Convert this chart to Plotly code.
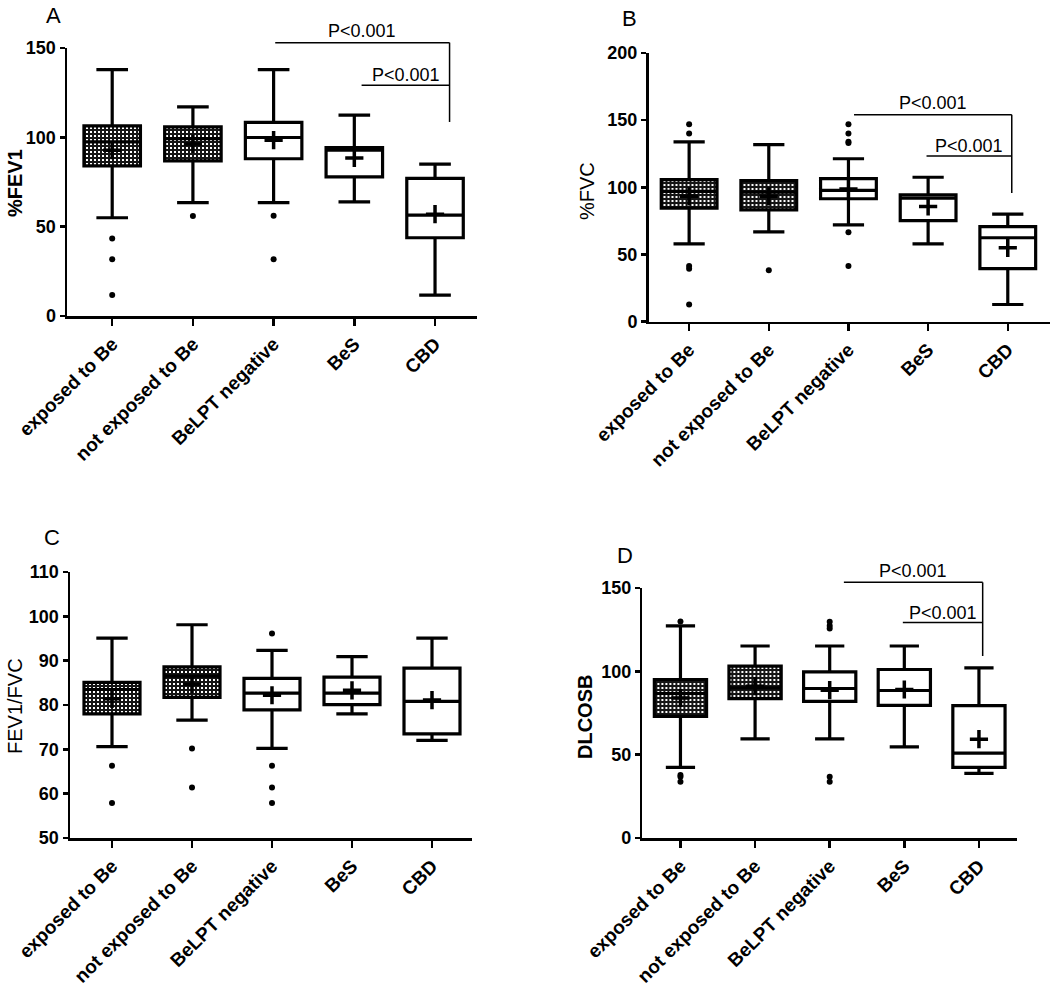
import plotly.graph_objects as go

# ---------------- data ----------------
categories = ["exposed to Be", "not exposed to Be", "BeLPT negative", "BeS", "CBD"]

# Panel A: %FEV1
fev1_q1 = [84.0, 86.8, 88.0, 77.9, 43.8]
fev1_median = [97.5, 99.3, 99.9, 92.8, 56.5]
fev1_q3 = [106.4, 105.8, 108.4, 94.3, 77.0]
fev1_low = [55.0, 63.5, 63.5, 63.9, 11.7]
fev1_high = [137.9, 117.0, 137.9, 112.4, 85.0]
fev1_mean = [92.8, 96.3, 98.4, 88.5, 57.0]
fev1_out_group = [0, 0, 0, 1, 2, 2]
fev1_out_value = [43.4, 31.7, 11.7, 56.0, 56.1, 31.7]

# Panel B: %FVC
fvc_q1 = [84.5, 83.3, 91.5, 75.3, 39.5]
fvc_median = [97.0, 96.5, 97.8, 92.0, 62.5]
fvc_q3 = [105.8, 105.0, 106.5, 94.5, 70.8]
fvc_low = [58.0, 66.8, 72.0, 58.0, 12.8]
fvc_high = [133.8, 131.8, 121.3, 107.5, 80.0]
fvc_mean = [93.3, 93.3, 98.8, 85.8, 55.0]
fvc_out_group = [0, 0, 0, 0, 0, 1, 2, 2, 2, 2, 2, 2]
fvc_out_value = [147.0, 140.0, 41.5, 39.5, 12.8, 38.3, 147.0, 140.0, 134.0, 133.0, 66.5, 41.5]

# Panel C: FEV1/FVC
ratio_q1 = [78.0, 81.7, 78.9, 80.1, 73.5]
ratio_median = [83.5, 86.5, 82.7, 82.7, 80.8]
ratio_q3 = [85.1, 88.6, 86.0, 86.3, 88.3]
ratio_low = [70.6, 76.6, 70.2, 78.0, 72.0]
ratio_high = [95.1, 98.1, 92.3, 90.9, 95.1]
ratio_mean = [81.4, 84.7, 82.2, 83.3, 81.1]
ratio_out_group = [0, 0, 1, 1, 2, 2, 2, 2]
ratio_out_value = [66.3, 57.9, 70.2, 61.4, 96.1, 66.3, 61.4, 57.9]

# Panel D: DLCOSB
dl_q1 = [73.0, 83.6, 82.0, 79.6, 42.4]
dl_median = [86.7, 90.1, 89.7, 88.5, 50.9]
dl_q3 = [95.1, 103.1, 99.7, 101.1, 79.4]
dl_low = [42.4, 59.5, 59.5, 54.7, 38.8]
dl_high = [127.3, 115.2, 115.2, 115.2, 102.1]
dl_mean = [84.0, 91.1, 88.7, 89.1, 59.3]
dl_out_group = [0, 0, 0, 0, 2, 2, 2, 2, 2]
dl_out_value = [129.9, 37.8, 36.8, 33.8, 127.3, 125.7, 129.7, 36.8, 33.8]

hatched_groups = [0, 1]

# significance brackets: (y of line, x start group, x end group, y bottom of drop, text y)
sig_A = [(153.0, 2.02, 4.18, 108.6, 159.5), (129.1, 3.09, 4.18, None, 135.0)]
sig_B = [(154.0, 2.07, 4.05, 95.8, 163.0), (123.3, 2.98, 4.05, None, 130.8)]
sig_D = [(153.4, 2.19, 4.05, 109.2, 160.0), (129.3, 2.98, 4.05, None, 134.8)]
sig_label = "P<0.001"

# ---------------- layout geometry (pixels) ----------------
W, H = 1050, 989
FONT = "Liberation Sans, Arial, sans-serif"

panels = [
    dict(suffix="", letter="A", title="%FEV1", title_bold=True,
         q1=fev1_q1, med=fev1_median, q3=fev1_q3, lo=fev1_low, hi=fev1_high, mean=fev1_mean,
         og=fev1_out_group, ov=fev1_out_value, sig=sig_A,
         yr=[0, 150], yt=[0, 50, 100, 150], xr=[-0.56, 4.52],
         px=(67, 477, 316, 48), letter_xy=(53, 15), title_xy=(15, 183)),
    dict(suffix="2", letter="B", title="%FVC", title_bold=False,
         q1=fvc_q1, med=fvc_median, q3=fvc_q3, lo=fvc_low, hi=fvc_high, mean=fvc_mean,
         og=fvc_out_group, ov=fvc_out_value, sig=sig_B,
         yr=[0, 200], yt=[0, 50, 100, 150, 200], xr=[-0.51, 4.53],
         px=(648.5, 1050, 321.7, 53), letter_xy=(629, 19), title_xy=(587, 191)),
    dict(suffix="3", letter="C", title="FEV1/FVC", title_bold=False,
         q1=ratio_q1, med=ratio_median, q3=ratio_q3, lo=ratio_low, hi=ratio_high, mean=ratio_mean,
         og=ratio_out_group, ov=ratio_out_value, sig=[],
         yr=[50, 110], yt=[50, 60, 70, 80, 90, 100, 110], xr=[-0.525, 4.5],
         px=(70, 472, 838, 572), letter_xy=(52, 537), title_xy=(15, 706)),
    dict(suffix="4", letter="D", title="DLCOSB", title_bold=True,
         q1=dl_q1, med=dl_median, q3=dl_q3, lo=dl_low, hi=dl_high, mean=dl_mean,
         og=dl_out_group, ov=dl_out_value, sig=sig_D,
         yr=[0, 150], yt=[0, 50, 100, 150], xr=[-0.51, 4.51],
         px=(642.4, 1017, 838, 588), letter_xy=(625, 555), title_xy=(585, 717)),
]


def fx(px):
    return px / W


def fy(py):
    return 1 - py / H


fig = go.Figure()
layout = dict(width=W, height=H, autosize=False, template="none",
              margin=dict(l=0, r=0, t=0, b=0, pad=0),
              paper_bgcolor="white", plot_bgcolor="white",
              showlegend=False, hovermode=False, barmode="overlay")
annotations = []
shapes = []

for p in panels:
    s = p["suffix"]
    xa, ya = "x" + s, "y" + s
    x0p, x1p, y0p, y1p = p["px"]
    xdom = [fx(x0p), min(1.0, fx(x1p))]
    ydom = [fy(y0p), fy(y1p)]

    # hatched box bodies
    hb = hatched_groups
    fig.add_trace(go.Bar(
        x=hb, base=[p["q1"][i] for i in hb], y=[p["q3"][i] - p["q1"][i] for i in hb],
        width=0.7, xaxis=xa, yaxis=ya,
        marker=dict(color="white", line=dict(width=0),
                    pattern=dict(shape="+", fgcolor="#151515", bgcolor="white",
                                 size=4, solidity=0.75, fillmode="replace")),
    ))
    # boxes
    fig.add_trace(go.Box(
        x=list(range(len(categories))), q1=p["q1"], median=p["med"], q3=p["q3"],
        lowerfence=p["lo"], upperfence=p["hi"], boxpoints=False,
        width=0.7, whiskerwidth=0.56, fillcolor="rgba(0,0,0,0)",
        line=dict(color="black", width=3.2), xaxis=xa, yaxis=ya,
    ))
    # outliers
    fig.add_trace(go.Scatter(
        x=p["og"], y=p["ov"], mode="markers", xaxis=xa, yaxis=ya,
        marker=dict(symbol="circle", size=6, color="black"),
    ))
    # means
    fig.add_trace(go.Scatter(
        x=list(range(len(categories))), y=p["mean"], mode="markers", xaxis=xa, yaxis=ya,
        marker=dict(symbol="cross-thin", size=13, line=dict(width=3.5, color="black")),
    ))

    layout["xaxis" + s] = dict(
        domain=xdom, range=p["xr"], anchor=ya, automargin=False,
        tickmode="array", tickvals=list(range(len(categories))), ticktext=categories,
        tickangle=-45, showline=True, linecolor="black", linewidth=2.5,
        ticks="outside", ticklen=7, tickwidth=2.5, tickcolor="black",
        showgrid=False, zeroline=False,
        tickfont=dict(family=FONT, size=19, color="black", weight="bold"),
    )
    layout["yaxis" + s] = dict(
        domain=ydom, range=p["yr"], anchor=xa, automargin=False,
        tickmode="array", tickvals=p["yt"],
        showline=True, linecolor="black", linewidth=2.5,
        ticks="outside", ticklen=5, tickwidth=2.5, tickcolor="black",
        showgrid=False, zeroline=False,
        tickfont=dict(family=FONT, size=18, color="black", weight="bold"),
    )

    def px_x(v, p=p, xdom=xdom):
        r0, r1 = p["xr"]
        return xdom[0] + (v - r0) / (r1 - r0) * (xdom[1] - xdom[0])

    def px_y(v, p=p, ydom=ydom):
        r0, r1 = p["yr"]
        return ydom[0] + (v - r0) / (r1 - r0) * (ydom[1] - ydom[0])

    for (yl, xs, xe, ydrop, ytext) in p["sig"]:
        shapes.append(dict(type="line", xref="paper", yref="paper",
                           x0=px_x(xs), x1=px_x(xe), y0=px_y(yl), y1=px_y(yl),
                           line=dict(color="black", width=1.5)))
        if ydrop is not None:
            shapes.append(dict(type="line", xref="paper", yref="paper",
                               x0=px_x(xe), x1=px_x(xe), y0=px_y(yl), y1=px_y(ydrop),
                               line=dict(color="black", width=1.5)))
        annotations.append(dict(text=sig_label, xref="paper", yref="paper",
                                x=px_x((xs + xe) / 2), y=px_y(ytext),
                                xanchor="center", yanchor="middle", showarrow=False,
                                font=dict(family=FONT, size=18, color="black")))

    lx, ly = p["letter_xy"]
    annotations.append(dict(text=p["letter"], xref="paper", yref="paper",
                            x=fx(lx), y=fy(ly), xanchor="center", yanchor="middle",
                            showarrow=False, font=dict(family=FONT, size=22, color="black")))
    tx, ty = p["title_xy"]
    annotations.append(dict(text=p["title"], xref="paper", yref="paper",
                            x=fx(tx), y=fy(ty), xanchor="center", yanchor="middle",
                            textangle=-90, showarrow=False,
                            font=dict(family=FONT, size=20, color="#000000",
                                      weight="bold" if p["title_bold"] else "normal")))

layout["annotations"] = annotations
layout["shapes"] = shapes
fig.update_layout(**layout)
fig.write_html("out.html", config={"displayModeBar": False, "staticPlot": True},
               post_script="document.body.style.margin='0px';")
